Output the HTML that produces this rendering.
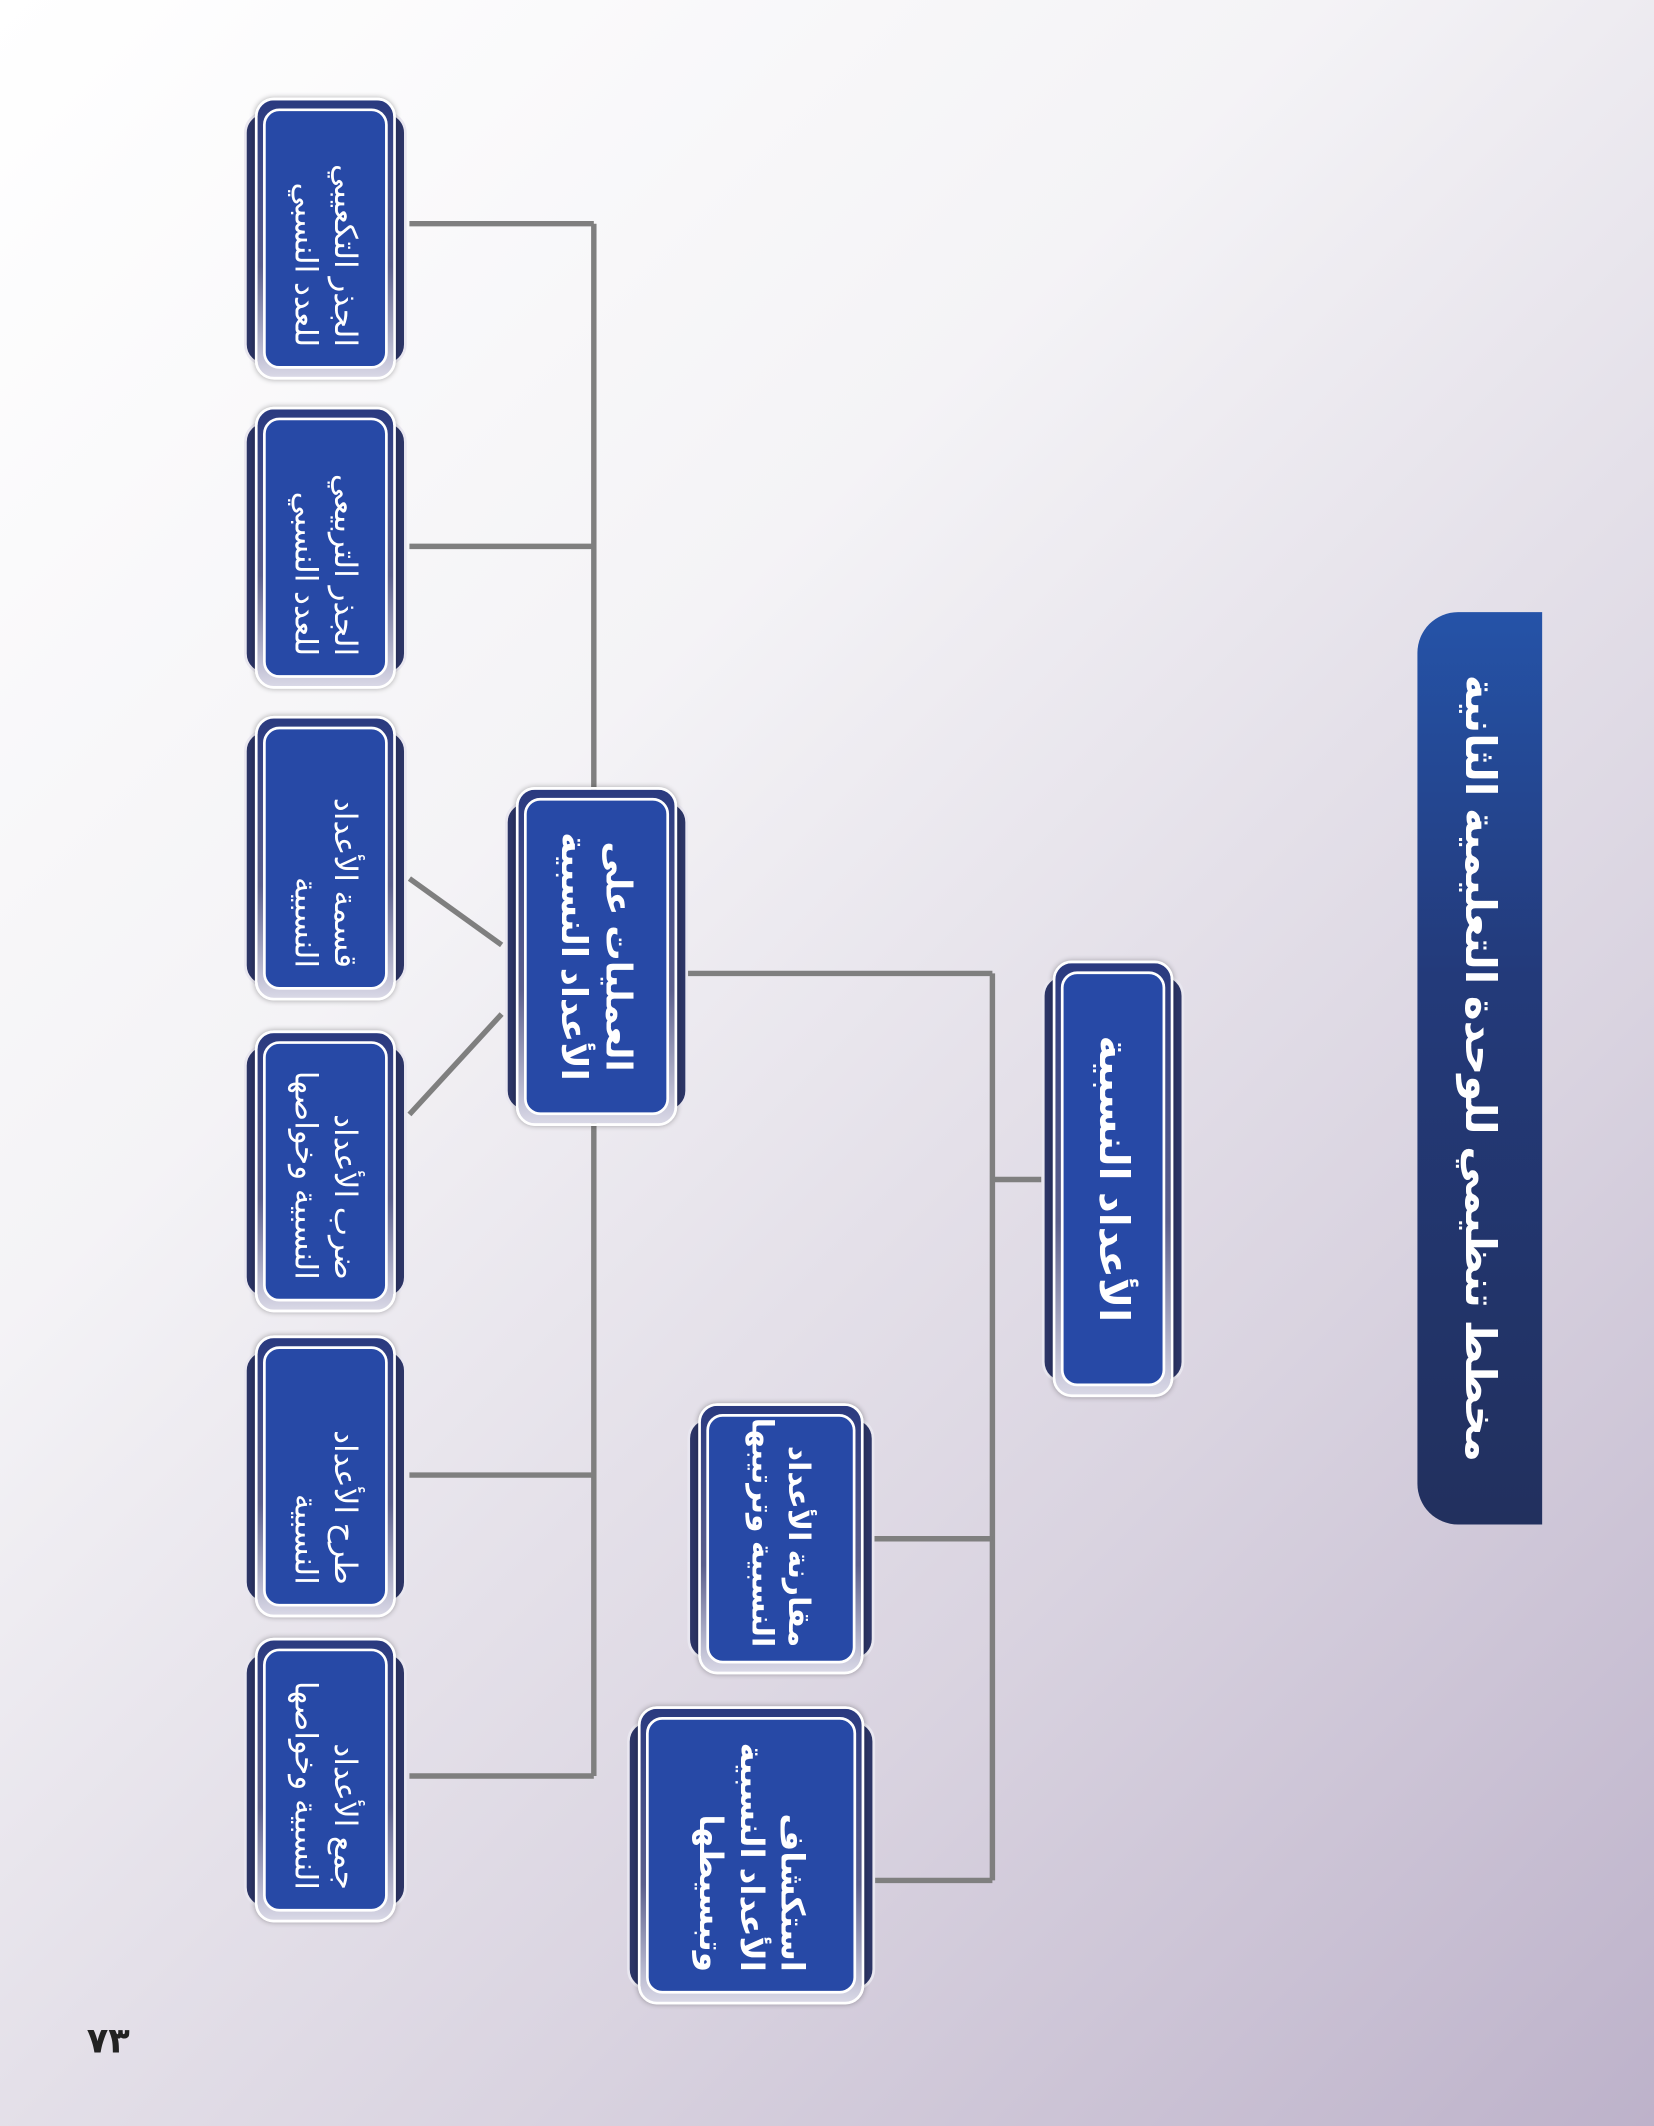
<!DOCTYPE html>
<html><head><meta charset="utf-8">
<style>
html,body{margin:0;padding:0}
body{width:1654px;height:2126px;overflow:hidden;background:linear-gradient(135deg,#ffffff 0%,#f4f3f6 35%,#d9d3e0 70%,#bdb2ca 100%);font-family:"Liberation Sans","DejaVu Sans",sans-serif}
#c{position:absolute;left:0;top:0;width:1220px;height:1568px;transform:scale(1.35574);transform-origin:0 0}
.b{position:absolute;transform:rotate(90deg);box-sizing:border-box}
.b .back{position:absolute;left:10px;right:10px;top:0;bottom:0;background:#2c3566;border-radius:16px;border:2px solid #e9e7f0}
.b .mid{position:absolute;left:0;right:0;top:8px;bottom:8px;background:linear-gradient(90deg,#2a3a80,#5b5f8c 60%,#d9d8e6);border-radius:14px;border:2px solid #fff;box-shadow:0 0 4px rgba(0,0,0,.3)}
.b .in{position:absolute;left:8px;right:8px;top:14px;bottom:14px;background:#2749a6;border-radius:12px;border:2px solid #fff;display:flex;flex-direction:column;justify-content:center;color:#fff;direction:rtl;text-align:center;font-family:"Liberation Sans","DejaVu Sans",sans-serif;line-height:1.25}
.t{font-size:23px;padding:0 14px;text-align:right;white-space:nowrap}
.title{position:absolute;left:754.5px;top:742px;width:673px;height:92px;transform:rotate(90deg);background:linear-gradient(90deg,#2553a8,#233a7a 40%,#22305e);border-radius:0 0 30px 30px;color:#fff;direction:rtl;font-size:31px;font-weight:bold;display:flex;align-items:center;justify-content:center}
.pn{position:absolute;left:64px;top:1490px;font-size:26px;font-weight:bold;color:#222}
</style></head><body>
<div id="c">
<svg width="1220" height="1568" style="position:absolute;left:0;top:0">
<g stroke="#7f7f7f" stroke-width="4" fill="none">
<path d="M768 870 H732"/>
<path d="M732 718 V1387"/>
<path d="M507 718 H732"/>
<path d="M645 1135 H732"/>
<path d="M645 1387 H732"/>
<path d="M438 165 V1310"/>
<path d="M302 165 H438"/>
<path d="M302 403 H438"/>
<path d="M302 1088 H438"/>
<path d="M302 1310 H438"/>
<path d="M302 648 L370 697"/>
<path d="M302 822 L370 748"/>
</g></svg>

<div class="title">مخطط تنظيمي للوحدة التعليمية الثانية</div>

<div class="b" style="left:659.5px;top:816.5px;width:322px;height:105px"><div class="back"></div><div class="mid"></div><div class="in"><div style="font-size:30px;font-weight:bold">الأعداد النسبية</div></div></div>

<div class="b" style="left:314.5px;top:637.5px;width:250px;height:135px"><div class="back"></div><div class="mid"></div><div class="in"><div style="font-size:26px;font-weight:bold">العمليات على</div><div style="font-size:26px;font-weight:bold">الأعداد النسبية</div></div></div>

<div class="b" style="left:476px;top:1066px;width:200px;height:138px"><div class="back"></div><div class="mid"></div><div class="in"><div class="t" style="font-size:22px;font-weight:bold;padding:0 10px">مقارنة الأعداد</div><div class="t" style="font-size:22px;font-weight:bold;padding:0 10px">النسبية وترتيبها</div></div></div>

<div class="b" style="left:443.5px;top:1276.5px;width:220px;height:183px"><div class="back"></div><div class="mid"></div><div class="in"><div class="t" style="font-size:24px;font-weight:bold">استكشاف</div><div class="t" style="font-size:24px;font-weight:bold">الأعداد النسبية</div><div class="t" style="font-size:24px;font-weight:bold">وتبسيطها</div></div></div>

<div class="b" style="left:136px;top:116px;width:208px;height:120px"><div class="back"></div><div class="mid"></div><div class="in"><div class="t">الجذر التكعيبي</div><div class="t">للعدد النسبي</div></div></div>
<div class="b" style="left:136px;top:344px;width:208px;height:120px"><div class="back"></div><div class="mid"></div><div class="in"><div class="t">الجذر التربيعي</div><div class="t">للعدد النسبي</div></div></div>
<div class="b" style="left:135px;top:573px;width:210px;height:120px"><div class="back"></div><div class="mid"></div><div class="in"><div class="t">قسمة الأعداد</div><div class="t">النسبية</div></div></div>
<div class="b" style="left:136px;top:804px;width:208px;height:120px"><div class="back"></div><div class="mid"></div><div class="in"><div class="t">ضرب الأعداد</div><div class="t">النسبية وخواصها</div></div></div>
<div class="b" style="left:136px;top:1029px;width:208px;height:120px"><div class="back"></div><div class="mid"></div><div class="in"><div class="t">طرح الأعداد</div><div class="t">النسبية</div></div></div>
<div class="b" style="left:135px;top:1253px;width:210px;height:120px"><div class="back"></div><div class="mid"></div><div class="in"><div class="t">جمع الأعداد</div><div class="t">النسبية وخواصها</div></div></div>

<div class="pn">٧٣</div>
</div>
</body></html>
